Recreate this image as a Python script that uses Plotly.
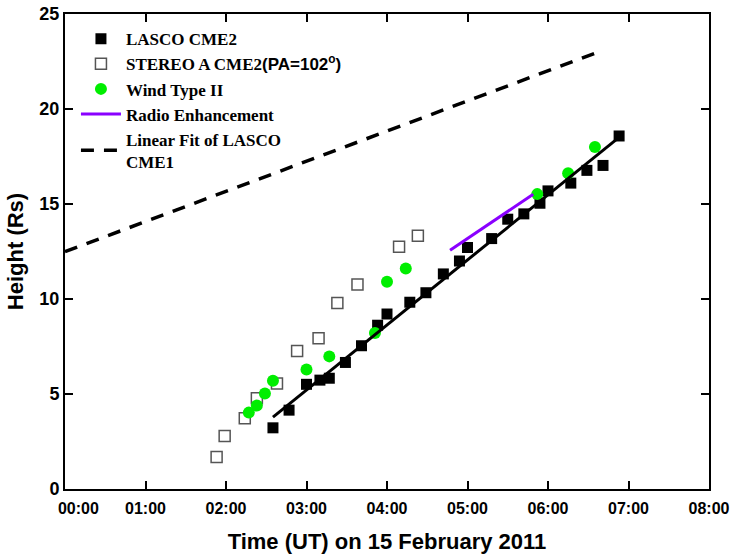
import plotly.graph_objects as go

DAY = "2011-02-15 "

# LASCO CME2 (filled squares)
lasco_t = ["02:35", "02:47", "03:00", "03:10", "03:17", "03:29", "03:41", "03:53",
           "04:00", "04:17", "04:29", "04:42", "04:54", "05:00", "05:18", "05:30",
           "05:42", "05:54", "06:00", "06:17", "06:29", "06:41", "06:53"]
lasco_h = [3.22, 4.15, 5.51, 5.73, 5.83, 6.66, 7.54, 8.62,
           9.21, 9.83, 10.33, 11.32, 12.0, 12.71, 13.18, 14.20,
           14.48, 15.04, 15.69, 16.10, 16.77, 17.03, 18.58]

# STEREO A CME2 (open squares)
stereo_t = ["01:53", "01:59", "02:14", "02:23", "02:38", "02:53", "03:09",
            "03:23", "03:38", "04:09", "04:23"]
stereo_h = [1.68, 2.79, 3.72, 4.77, 5.55, 7.26, 7.93, 9.79, 10.76, 12.75, 13.33]

# Wind Type II (green circles)
wind_t = ["02:17", "02:23", "02:29", "02:35", "03:00", "03:17", "03:51",
          "04:00", "04:14", "05:52", "06:15", "06:35"]
wind_h = [4.02, 4.39, 5.03, 5.70, 6.29, 6.98, 8.21, 10.91, 11.60, 15.52, 16.62, 18.0]

# Radio Enhancement (purple line)
radio_t = ["04:47", "05:49"]
radio_h = [12.57, 15.51]

# Linear fit of LASCO CME2 (solid black)
fit2_t = ["02:35", "06:52"]
fit2_h = [3.78, 18.45]

# Linear fit of LASCO CME1 (dashed)
fit1_t = ["00:00", "06:37"]
fit1_h = [12.49, 22.99]

x_ticks = ["00:00", "01:00", "02:00", "03:00", "04:00", "05:00", "06:00", "07:00", "08:00"]
y_ticks = [0, 5, 10, 15, 20, 25]


def ts(lst):
    return [DAY + t for t in lst]


SERIF = "Liberation Serif, Times New Roman, serif"
SANS = "Liberation Sans, Arial, sans-serif"

# first label sits a little right of its tick, as in the reference
x_ticktext = ["\u00a0" * 6 + x_ticks[0]] + x_ticks[1:]

fig = go.Figure()
fig.add_trace(go.Scatter(
    x=ts(lasco_t), y=lasco_h, mode="markers", name="LASCO CME2",
    marker=dict(symbol="square", size=11, color="black", line=dict(width=0))))
fig.add_trace(go.Scatter(
    x=ts(stereo_t), y=stereo_h, mode="markers",
    name="STEREO A CME2<span style='font-family:Liberation Sans'>(PA=102<sup>o</sup>)</span>",
    marker=dict(symbol="square-open", size=11, color="#555555", line=dict(width=1.5))))
fig.add_trace(go.Scatter(
    x=ts(wind_t), y=wind_h, mode="markers", name="Wind Type II",
    marker=dict(symbol="circle", size=12, color="#00ee00", line=dict(width=0))))
fig.add_trace(go.Scatter(
    x=ts(radio_t), y=radio_h, mode="lines", name="Radio Enhancement",
    line=dict(color="#8a00ff", width=3)))
fig.add_trace(go.Scatter(
    x=ts(fit1_t), y=fit1_h, mode="lines", name="Linear Fit of LASCO<br>CME1",
    line=dict(color="black", width=3.5, dash="13px,10px")))
fig.add_trace(go.Scatter(
    x=ts(fit2_t), y=fit2_h, mode="lines", showlegend=False,
    line=dict(color="black", width=3)))

fig.update_layout(
    width=730, height=556,
    margin=dict(l=65, r=21, t=14, b=67),
    paper_bgcolor="white", plot_bgcolor="white",
    font=dict(family=SANS, color="black"),
    showlegend=True,
    legend=dict(
        x=0.017, y=0.985, xanchor="left", yanchor="top",
        bgcolor="rgba(0,0,0,0)", borderwidth=0,
        font=dict(family=SERIF, size=17, color="black", weight="bold"),
        tracegroupgap=0, itemwidth=40,
    ),
    xaxis=dict(
        type="date", automargin=False,
        range=[DAY + "00:00", DAY + "08:00"],
        tickvals=ts(x_ticks), ticktext=x_ticktext,
        ticks="inside", ticklen=8, tickwidth=2, tickcolor="black",
        showline=True, linewidth=2, linecolor="black", mirror="ticks",
        showgrid=False, zeroline=False, ticklabelstandoff=4,
        tickfont=dict(family=SANS, size=16, weight="bold"),
        title=dict(text="Time (UT) on 15 February 2011",
                   font=dict(family=SANS, size=22, weight="bold"), standoff=17),
    ),
    yaxis=dict(
        range=[0, 25], tickvals=y_ticks, automargin=False,
        ticks="inside", ticklen=8, tickwidth=2, tickcolor="black",
        showline=True, linewidth=2, linecolor="black", mirror="ticks",
        showgrid=False, zeroline=False,
        tickfont=dict(family=SANS, size=18, weight="bold"),
        title=dict(text="Height (Rs)",
                   font=dict(family=SANS, size=22, weight="bold"), standoff=10),
    ),
)

fig.write_html("out.html")
